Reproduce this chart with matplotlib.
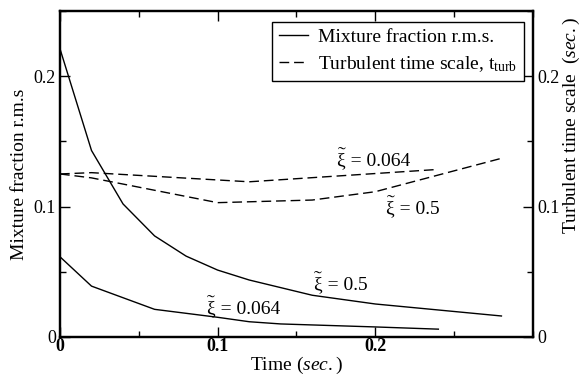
import numpy as np
import matplotlib
matplotlib.use("Agg")
import matplotlib.pyplot as plt
from matplotlib.ticker import MultipleLocator

plt.rcParams['font.family'] = ['Liberation Serif', 'DejaVu Serif']
plt.rcParams['mathtext.fontset'] = 'custom'
plt.rcParams['mathtext.rm'] = 'Liberation Serif'
plt.rcParams['mathtext.it'] = 'Liberation Serif:italic'
plt.rcParams['mathtext.bf'] = 'Liberation Serif:bold'

# --- data ---
# mixture fraction r.m.s. (left axis)
t_rms_05 = [0.0, 0.02, 0.04, 0.06, 0.08, 0.10, 0.12, 0.16, 0.20, 0.28]
rms_05 = [0.221, 0.143, 0.102, 0.0775, 0.062, 0.0513, 0.0437, 0.032, 0.0253, 0.0161]

t_rms_0064 = [0.0, 0.02, 0.06, 0.10, 0.12, 0.14, 0.20, 0.24]
rms_0064 = [0.0615, 0.039, 0.0212, 0.0151, 0.0117, 0.010, 0.0077, 0.006]

# turbulent time scale (right axis, sec.)
t_turb_0064 = [0.0, 0.02, 0.12, 0.24]
turb_0064 = [0.125, 0.126, 0.119, 0.1285]

t_turb_05 = [0.0, 0.02, 0.10, 0.16, 0.20, 0.28]
turb_05 = [0.125, 0.122, 0.103, 0.105, 0.1114, 0.137]

# curve labels (mean mixture fraction) and where they sit
label_vals = ['0.064', '0.5', '0.064', '0.5']
label_x = [0.093, 0.161, 0.176, 0.207]
label_y = [0.0184, 0.0368, 0.1318, 0.095]

fs = 14

fig = plt.figure(figsize=(5.8, 3.8), dpi=100)
ax = fig.add_axes([0.1034, 0.1132, 0.8155, 0.858])
ax2 = ax.twinx()

dash = (0, (7, 3.5))
l1, = ax.plot(t_rms_05, rms_05, color='black', lw=1.0)
ax.plot(t_rms_0064, rms_0064, color='black', lw=1.0)
l2, = ax2.plot(t_turb_0064, turb_0064, color='black', lw=1.0, linestyle=dash)
ax2.plot(t_turb_05, turb_05, color='black', lw=1.0, linestyle=dash)

ax.set_xlim(0, 0.3)
ax.set_ylim(0, 0.25)
ax2.set_ylim(0, 0.25)

ax.xaxis.set_minor_locator(MultipleLocator(0.05))
for a in (ax, ax2):
    a.yaxis.set_minor_locator(MultipleLocator(0.05))

ax.set_xticks([0, 0.1, 0.2])
ax.set_xticklabels(['0', '0.1', '0.2'], fontweight='bold', fontsize=13)
ax.set_yticks([0, 0.1, 0.2])
ax.set_yticklabels(['0', '0.1', '0.2'], fontsize=13)
ax2.set_yticks([0, 0.1, 0.2])
ax2.set_yticklabels(['0', '0.1', '0.2'], fontsize=13)

ax.tick_params(axis='x', which='both', direction='in', top=True, bottom=True)
ax.tick_params(axis='y', which='both', direction='in', left=True, right=False)
ax2.tick_params(axis='y', which='both', direction='in', left=False, right=True)
for a in (ax, ax2):
    a.tick_params(which='major', length=7, width=1.0, pad=3)
    a.tick_params(which='minor', length=4, width=1.0)
    for s in a.spines.values():
        s.set_linewidth(1.6)
ax.tick_params(axis='x', which='major', pad=1)

ax.set_xlabel(r'Time $\it{(sec.)}$', fontsize=fs, labelpad=0)
ax.set_ylabel('Mixture fraction r.m.s', fontsize=fs, labelpad=4)
ax2.set_ylabel(r'Turbulent time scale  $\it{(sec.)}$', fontsize=fs)
ax2.yaxis.set_label_coords(1.059, 0.647)

# curve annotations: xi with a tilde drawn above it
for v, x, y in zip(label_vals, label_x, label_y):
    ax.text(x, y, '\u03be = ' + v, fontsize=fs, va='baseline', ha='left')
    ax.annotate('\u02dc', (x, y), xytext=(0.3, 1.5), textcoords='offset points',
                fontsize=17, va='baseline', ha='left')

leg = ax2.legend([l1, l2], ['Mixture fraction r.m.s.', r'Turbulent time scale, t$_{\rm turb}$'],
                 loc='upper right', bbox_to_anchor=(0.981, 0.967), borderaxespad=0,
                 fontsize=fs, fancybox=False, framealpha=1, edgecolor='black',
                 handlelength=1.5, borderpad=0.35, labelspacing=0.4, handletextpad=0.5)
leg.get_frame().set_linewidth(1.0)

fig.savefig('out.png', dpi=100)
